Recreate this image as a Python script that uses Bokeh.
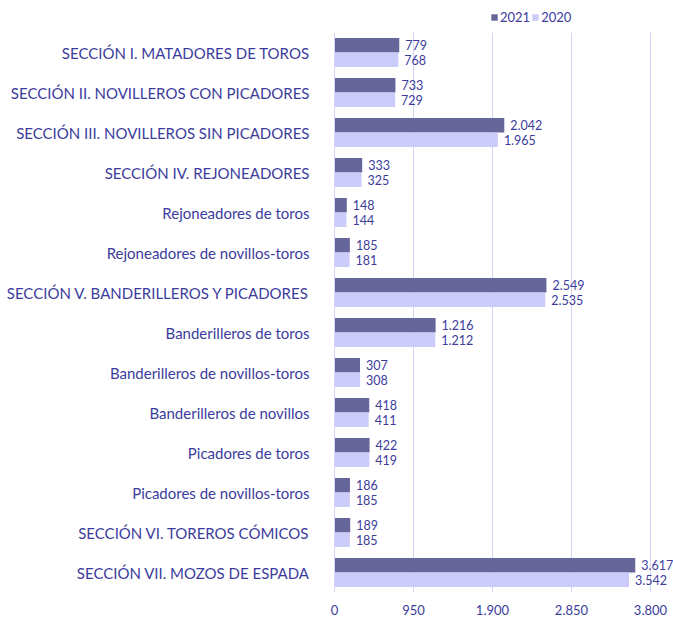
from bokeh.plotting import figure
from bokeh.layouts import column
from bokeh.models import ColumnDataSource, FactorRange, Range1d, FixedTicker, LabelSet, Legend, LegendItem
from bokeh.core.properties import value
from bokeh.transform import dodge
from bokeh.embed import file_html
from bokeh.resources import INLINE

categories = [
    "SECCIÓN I. MATADORES DE TOROS",
    "SECCIÓN II. NOVILLEROS CON PICADORES",
    "SECCIÓN III. NOVILLEROS SIN PICADORES",
    "SECCIÓN IV. REJONEADORES",
    "Rejoneadores de toros",
    "Rejoneadores de novillos-toros",
    "SECCIÓN V. BANDERILLEROS Y PICADORES",
    "Banderilleros de toros",
    "Banderilleros de novillos-toros",
    "Banderilleros de novillos",
    "Picadores de toros",
    "Picadores de novillos-toros",
    "SECCIÓN VI. TOREROS CÓMICOS",
    "SECCIÓN VII. MOZOS DE ESPADA",
]
values_2021 = [779, 733, 2042, 333, 148, 185, 2549, 1216, 307, 418, 422, 186, 189, 3617]
values_2020 = [768, 729, 1965, 325, 144, 181, 2535, 1212, 308, 411, 419, 185, 185, 3542]
series_names = ["2021", "2020"]
x_ticks = [0, 950, 1900, 2850, 3800]

def fmt(v):
    return f"{v:,}".replace(",", ".")

TEXT = "#3c3c9c"
DARK = "#66669a"
LIGHT = "#ccccfa"
GRID = "#d4d4f8"
FONT = "Lato"

src = ColumnDataSource(dict(
    cat=categories,
    v21=values_2021,
    v20=values_2020,
    l21=[fmt(v) for v in values_2021],
    l20=[fmt(v) for v in values_2020],
))

W = 673
LEFT = 334
LEG_H = 28

# ---- legend strip on top (frames are aligned with the main chart) ----
leg = figure(width=W, height=LEG_H, output_backend="svg", toolbar_location=None,
             x_axis_location=None, y_axis_location=None, outline_line_color=None,
             x_range=Range1d(0, 1), y_range=Range1d(0, 1))
leg.min_border_left = LEFT
leg.min_border_right = 0
leg.min_border_top = 0
leg.min_border_bottom = 0
leg.xgrid.grid_line_color = None
leg.ygrid.grid_line_color = None
nan_src = ColumnDataSource(dict(y=[float("nan")], right=[float("nan")]))
lr21 = leg.hbar(y="y", right="right", height=1, source=nan_src, fill_color=DARK, line_color=None)
lr20 = leg.hbar(y="y", right="right", height=1, source=nan_src, fill_color=LIGHT, line_color=None)
legend = Legend(items=[LegendItem(label=value(series_names[0]), renderers=[lr21]),
                       LegendItem(label=value(series_names[1]), renderers=[lr20])],
                orientation="horizontal", location=(156, 3))
legend.glyph_width = 8
legend.glyph_height = 8
legend.label_text_font = FONT
legend.label_text_font_size = "13px"
legend.label_text_color = TEXT
legend.label_standoff = 2
legend.label_height = 14
legend.spacing = 1
legend.padding = 0
legend.margin = 0
legend.border_line_color = None
legend.background_fill_alpha = 0
leg.add_layout(legend)

# ---- main chart ----
p = figure(width=W, height=617 - LEG_H, output_backend="svg", toolbar_location=None,
           y_range=FactorRange(factors=list(reversed(categories))),
           x_range=Range1d(0, 4077))
p.min_border_left = LEFT
p.min_border_right = 0
p.min_border_top = 4
p.min_border_bottom = 0
p.outline_line_color = None

r21 = p.hbar(y=dodge("cat", 0.18, range=p.y_range), right="v21", left=0, height=0.36,
             source=src, fill_color=DARK, line_color=None)
r20 = p.hbar(y=dodge("cat", -0.18, range=p.y_range), right="v20", left=0, height=0.36,
             source=src, fill_color=LIGHT, line_color=None)

for col, lab, off in (("v21", "l21", 0.18), ("v20", "l20", -0.18)):
    ls = LabelSet(x=col, y=dodge("cat", off, range=p.y_range), text=lab, source=src,
                  x_offset=6, text_baseline="middle", text_align="left",
                  text_font=value(FONT), text_font_size=value("12.5px"), text_color=TEXT)
    p.add_layout(ls)

p.xaxis.ticker = FixedTicker(ticks=x_ticks)
p.xaxis.major_label_overrides = {t: fmt(t) for t in x_ticks}
p.xaxis.axis_line_color = None
p.xaxis.major_tick_line_color = None
p.xaxis.minor_tick_line_color = None
p.xaxis.major_label_standoff = 6
p.xaxis.major_label_text_font = FONT
p.xaxis.major_label_text_font_size = "13px"
p.xaxis.major_label_text_color = TEXT

p.yaxis.axis_line_color = GRID
p.yaxis.major_tick_line_color = None
p.yaxis.minor_tick_line_color = None
p.yaxis.major_label_standoff = 19
p.yaxis.major_label_text_font = FONT
p.yaxis.major_label_text_font_size = "15px"
p.yaxis.major_label_text_color = TEXT

p.ygrid.grid_line_color = None
p.xgrid.grid_line_color = GRID
p.xgrid.grid_line_width = 1

layout = column(leg, p, spacing=0)
open("out.html", "w").write(file_html(layout, INLINE))
